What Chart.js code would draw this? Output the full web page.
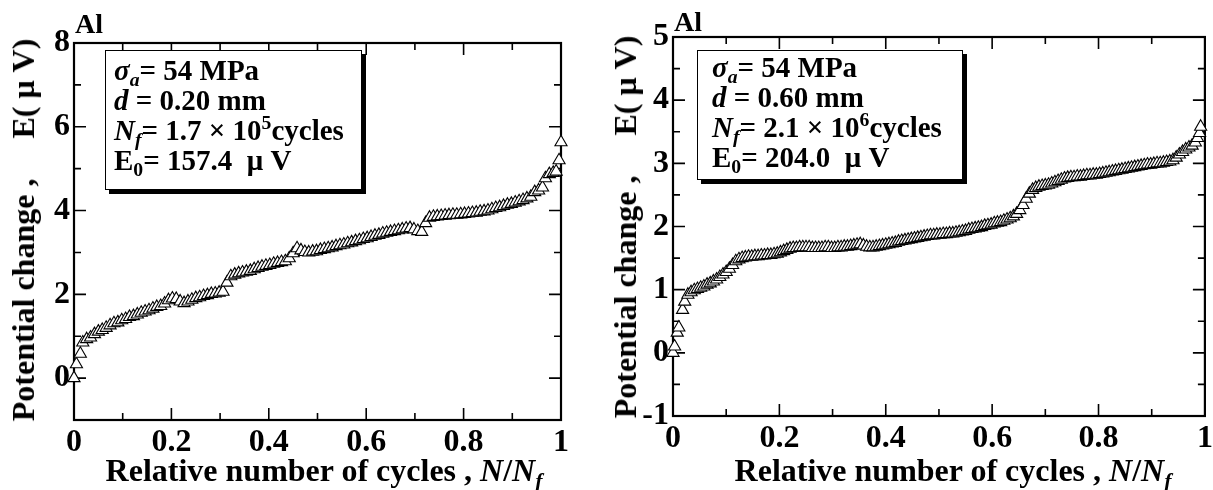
<!DOCTYPE html>
<html>
<head>
<meta charset="utf-8">
<script src="https://cdn.jsdelivr.net/npm/chart.js@4.4.1/dist/chart.umd.min.js"></script>
<style>
  body { margin: 0; background: #fff; width: 1213px; height: 490px; overflow: hidden; position: relative;
         font-family: "Liberation Serif", "DejaVu Serif", serif; font-weight: bold; color: #000; }
  canvas { position: absolute; top: 0; }
  .txt { position: absolute; white-space: pre; line-height: 1; }
  .box { position: absolute; box-sizing: border-box; border: 1.5px solid #000; background: #fff;
         box-shadow: 4px 4px 0 #000; padding: 4px 0 0 8px; font-size: 29px; }
  .box div { height: 30px; line-height: 30px; white-space: pre; }
  sub, sup { font-size: 0.68em; line-height: 0; position: relative; vertical-align: baseline; }
  sub { top: 0.3em; }
  sup { top: -0.55em; }
  .xt { font-size: 32px; transform: translateX(-50%); }
  .yt { font-size: 32px; transform: translate(-50%, -50%) rotate(-90deg); }
</style>
</head>
<body>
<canvas id="left" width="600" height="490" style="left:0"></canvas>
<canvas id="right" width="613" height="490" style="left:600px"></canvas>

<div class="txt" style="left:75px;top:10px;font-size:28px">Al</div>
<div class="txt" style="left:674px;top:8px;font-size:28px">Al</div>

<div class="box" style="left:105px;top:50px;width:257px;height:140px">
  <div><i>σ<sub>a</sub></i>= 54 MPa</div>
  <div><i>d</i> = 0.20 mm</div>
  <div><i>N<sub>f</sub></i>= 1.7 × 10<sup>5</sup>cycles</div>
  <div>E<sub>0</sub>= 157.4  μ V</div>
</div>
<div class="box" style="left:697px;top:50px;width:266px;height:130px;padding-top:1px;padding-left:14px">
  <div><i>σ<sub>a</sub></i>= 54 MPa</div>
  <div><i>d</i> = 0.60 mm</div>
  <div><i>N<sub>f</sub></i>= 2.1 × 10<sup>6</sup>cycles</div>
  <div>E<sub>0</sub>= 204.0  μ V</div>
</div>

<div class="txt xt" style="left:324px;top:454px">Relative number of cycles , <i>N</i>/<i>N<sub>f</sub></i></div>
<div class="txt xt" style="left:953px;top:454px">Relative number of cycles , <i>N</i>/<i>N<sub>f</sub></i></div>
<div class="txt yt" style="left:23px;top:230px">Potential change ,     E( μ V)</div>
<div class="txt yt" style="left:625px;top:227px">Potential change ,     E( μ V)</div>

<script>
// --- DADOS: d = 0.20 mm ---
const leftX = [0, 0.005, 0.013, 0.018, 0.026, 0.034, 0.042, 0.050, 0.058, 0.066, 0.074, 0.082, 0.090, 0.098,
  0.106, 0.114, 0.122, 0.130, 0.138, 0.146, 0.154, 0.162, 0.170, 0.178, 0.186, 0.194, 0.202, 0.210, 0.218,
  0.226, 0.234, 0.242, 0.250, 0.258, 0.266, 0.274, 0.282, 0.290, 0.298, 0.306, 0.314, 0.322, 0.330, 0.338,
  0.346, 0.354, 0.362, 0.370, 0.378, 0.386, 0.394, 0.402, 0.410, 0.418, 0.426, 0.434, 0.442, 0.450, 0.458,
  0.466, 0.474, 0.482, 0.490, 0.498, 0.506, 0.514, 0.522, 0.530, 0.538, 0.546, 0.554, 0.562, 0.570, 0.578,
  0.586, 0.594, 0.602, 0.610, 0.618, 0.626, 0.634, 0.642, 0.650, 0.658, 0.666, 0.674, 0.682, 0.690, 0.698,
  0.706, 0.714, 0.722, 0.730, 0.738, 0.746, 0.754, 0.762, 0.770, 0.778, 0.786, 0.794, 0.802, 0.810, 0.818,
  0.826, 0.834, 0.842, 0.850, 0.858, 0.866, 0.874, 0.882, 0.890, 0.898, 0.906, 0.914, 0.922, 0.930, 0.938,
  0.946, 0.954, 0.962, 0.968, 0.976, 0.984, 0.990, 0.996, 1.000];
const leftY = [0.00, 0.33, 0.58, 0.85, 0.93, 0.97, 1.05, 1.11, 1.15, 1.20, 1.26, 1.31, 1.33, 1.38,
  1.41, 1.46, 1.48, 1.52, 1.56, 1.59, 1.62, 1.66, 1.70, 1.72, 1.78, 1.86, 1.90, 1.89, 1.83,
  1.79, 1.83, 1.87, 1.91, 1.93, 1.96, 1.98, 2.01, 2.02, 2.04, 2.06, 2.28, 2.43, 2.47, 2.50,
  2.52, 2.54, 2.56, 2.60, 2.63, 2.66, 2.68, 2.70, 2.73, 2.75, 2.77, 2.79, 2.86, 2.98, 3.10,
  3.05, 3.01, 3.00, 3.02, 3.03, 3.06, 3.08, 3.10, 3.12, 3.15, 3.17, 3.19, 3.22, 3.24, 3.27,
  3.29, 3.32, 3.34, 3.37, 3.40, 3.42, 3.45, 3.47, 3.49, 3.51, 3.53, 3.55, 3.57, 3.58, 3.55,
  3.51, 3.49, 3.70, 3.83, 3.85, 3.86, 3.87, 3.88, 3.89, 3.90, 3.90, 3.91, 3.92, 3.93, 3.94,
  3.95, 3.97, 3.98, 4.00, 4.03, 4.06, 4.08, 4.11, 4.14, 4.16, 4.19, 4.22, 4.25, 4.29, 4.33,
  4.44, 4.48, 4.55, 4.77, 4.87, 4.90, 4.93, 5.20, 5.63];

// --- DADOS: d = 0.60 mm ---
const rightX = [0, 0.003, 0.008, 0.011, 0.018, 0.022, 0.028, 0.034, 0.040, 0.046, 0.052, 0.058, 0.064, 0.070,
  0.076, 0.082, 0.088, 0.094, 0.100, 0.106, 0.112, 0.118, 0.124, 0.130, 0.136, 0.142, 0.148, 0.154, 0.160,
  0.166, 0.172, 0.178, 0.184, 0.190, 0.196, 0.202, 0.208, 0.214, 0.220, 0.226, 0.232, 0.238, 0.244, 0.250,
  0.256, 0.262, 0.268, 0.274, 0.280, 0.286, 0.292, 0.298, 0.304, 0.310, 0.316, 0.322, 0.328, 0.334, 0.340,
  0.346, 0.352, 0.358, 0.364, 0.370, 0.376, 0.382, 0.388, 0.394, 0.400, 0.406, 0.412, 0.418, 0.424, 0.430,
  0.436, 0.442, 0.448, 0.454, 0.460, 0.466, 0.472, 0.478, 0.484, 0.490, 0.496, 0.502, 0.508, 0.514, 0.520,
  0.526, 0.532, 0.538, 0.544, 0.550, 0.556, 0.562, 0.568, 0.574, 0.580, 0.586, 0.592, 0.598, 0.604, 0.610,
  0.616, 0.622, 0.628, 0.634, 0.640, 0.646, 0.652, 0.658, 0.664, 0.670, 0.676, 0.682, 0.688, 0.694, 0.700,
  0.706, 0.712, 0.718, 0.724, 0.730, 0.736, 0.742, 0.748, 0.754, 0.760, 0.766, 0.772, 0.778, 0.784, 0.790,
  0.796, 0.802, 0.808, 0.814, 0.820, 0.826, 0.832, 0.838, 0.844, 0.850, 0.856, 0.862, 0.868, 0.874, 0.880,
  0.886, 0.892, 0.898, 0.904, 0.910, 0.916, 0.922, 0.928, 0.934, 0.940, 0.946, 0.952, 0.958, 0.964, 0.970,
  0.976, 0.982, 0.986, 0.990, 0.992];
const rightY = [0.00, 0.10, 0.32, 0.40, 0.68, 0.81, 0.92, 0.96, 0.99, 1.01, 1.03, 1.05, 1.08, 1.10,
  1.13, 1.16, 1.20, 1.24, 1.28, 1.33, 1.39, 1.45, 1.48, 1.50, 1.51, 1.52, 1.52, 1.53, 1.53,
  1.54, 1.54, 1.55, 1.55, 1.56, 1.57, 1.59, 1.61, 1.63, 1.65, 1.66, 1.66, 1.67, 1.67, 1.67,
  1.67, 1.66, 1.66, 1.66, 1.66, 1.67, 1.67, 1.66, 1.66, 1.67, 1.67, 1.68, 1.68, 1.69, 1.70,
  1.71, 1.72, 1.70, 1.68, 1.67, 1.67, 1.68, 1.69, 1.70, 1.71, 1.72, 1.73, 1.74, 1.76, 1.77,
  1.78, 1.79, 1.80, 1.81, 1.82, 1.83, 1.84, 1.85, 1.86, 1.86, 1.87, 1.87, 1.88, 1.88, 1.89,
  1.89, 1.90, 1.91, 1.92, 1.93, 1.95, 1.96, 1.97, 1.98, 1.99, 2.01, 2.02, 2.03, 2.05, 2.06,
  2.07, 2.09, 2.11, 2.13, 2.16, 2.20, 2.26, 2.34, 2.44, 2.52, 2.58, 2.61, 2.63, 2.64, 2.65,
  2.66, 2.68, 2.70, 2.72, 2.74, 2.76, 2.77, 2.78, 2.78, 2.79, 2.79, 2.80, 2.81, 2.81, 2.82,
  2.82, 2.83, 2.84, 2.85, 2.86, 2.87, 2.88, 2.89, 2.90, 2.91, 2.92, 2.93, 2.94, 2.95, 2.96,
  2.97, 2.98, 2.98, 2.99, 3.00, 3.00, 3.01, 3.02, 3.03, 3.05, 3.09, 3.14, 3.18, 3.22, 3.25,
  3.28, 3.33, 3.40, 3.48, 3.58];

// --- EIXOS ---
const xTicks = [0, 0.2, 0.4, 0.6, 0.8, 1];
const xTickLabels = ['0', '0.2', '0.4', '0.6', '0.8', '1'];
const xMinor = [0.1, 0.3, 0.5, 0.7, 0.9];
const leftYTicks = [0, 2, 4, 6, 8];
const leftYLabels = ['0', '2', '4', '6', '8'];
const leftYMinor = [1, 3, 5, 7];
const rightYTicks = [-1, 0, 1, 2, 3, 4, 5];
const rightYLabels = ['-1', '0', '1', '2', '3', '4', '5'];
const rightYMinor = [-0.5, 0.5, 1.5, 2.5, 3.5, 4.5];

const fonte = { family: '"Liberation Serif", serif', size: 32, weight: 'bold', lineHeight: 1 };

// moldura com marcas para dentro nos quatro lados
const moldura = {
  id: 'moldura',
  beforeDatasetsDraw(chart, args, opts) {
    const { ctx, chartArea: a, scales: { x, y } } = chart;
    ctx.save();
    ctx.strokeStyle = '#000';
    ctx.lineWidth = 1.6;
    const marca = (vals, len) => {
      vals.forEach(v => {
        const px = x.getPixelForValue(v);
        ctx.beginPath();
        ctx.moveTo(px, a.bottom); ctx.lineTo(px, a.bottom - len);
        ctx.moveTo(px, a.top); ctx.lineTo(px, a.top + len);
        ctx.stroke();
      });
    };
    const marcaY = (vals, len) => {
      vals.forEach(v => {
        const py = y.getPixelForValue(v);
        ctx.beginPath();
        ctx.moveTo(a.left, py); ctx.lineTo(a.left + len, py);
        ctx.moveTo(a.right, py); ctx.lineTo(a.right - len, py);
        ctx.stroke();
      });
    };
    marca(xTicks, 12); marca(xMinor, 7);
    marcaY(opts.major, 12); marcaY(opts.minor, 7);
    ctx.lineWidth = 2.2;
    ctx.strokeRect(a.left, a.top, a.right - a.left, a.bottom - a.top);
    ctx.restore();
  }
};

function criarGrafico(id, xs, ys, c) {
  const pontos = xs.map((v, i) => ({ x: v, y: ys[i] }));
  return new Chart(document.getElementById(id), {
    type: 'scatter',
    data: {
      datasets: [{
        data: pontos,
        pointStyle: 'triangle',
        pointRadius: 7,
        backgroundColor: '#fff',
        borderColor: '#000',
        borderWidth: 1.1,
        clip: false
      }]
    },
    options: {
      responsive: false,
      animation: false,
      devicePixelRatio: 1,
      layout: { padding: { top: c.top, right: c.right, left: 0, bottom: 0 } },
      plugins: { legend: { display: false }, tooltip: { enabled: false }, moldura: { major: c.yTicks, minor: c.yMinor } },
      scales: {
        x: {
          type: 'linear', min: 0, max: 1,
          grid: { display: false, drawTicks: false },
          border: { display: false },
          afterBuildTicks: s => { s.ticks = xTicks.map(v => ({ value: v })); },
          ticks: { font: fonte, color: '#000', padding: 7, maxRotation: 0, autoSkip: false,
                   callback: (v, i) => xTickLabels[i] },
          afterFit: s => { s.height = c.xh; s.paddingLeft = 0; s.paddingRight = 0; }
        },
        y: {
          type: 'linear', min: c.yMin, max: c.yMax,
          grid: { display: false, drawTicks: false },
          border: { display: false },
          afterBuildTicks: s => { s.ticks = c.yTicks.map(v => ({ value: v })); },
          ticks: { font: fonte, color: '#000', padding: 4, autoSkip: false,
                   callback: (v, i) => c.yLabels[i] },
          afterFit: s => { s.width = c.yw; s.paddingTop = 0; s.paddingBottom = 0; }
        }
      }
    },
    plugins: [moldura]
  });
}

criarGrafico('left', leftX, leftY, {
  top: 43, right: 39, yw: 74, xh: 70, yMin: -1, yMax: 8,
  yTicks: leftYTicks, yLabels: leftYLabels, yMinor: leftYMinor
});
criarGrafico('right', rightX, rightY, {
  top: 37, right: 6, yw: 73, xh: 74, yMin: -1, yMax: 5,
  yTicks: rightYTicks, yLabels: rightYLabels, yMinor: rightYMinor
});
</script>
</body>
</html>
